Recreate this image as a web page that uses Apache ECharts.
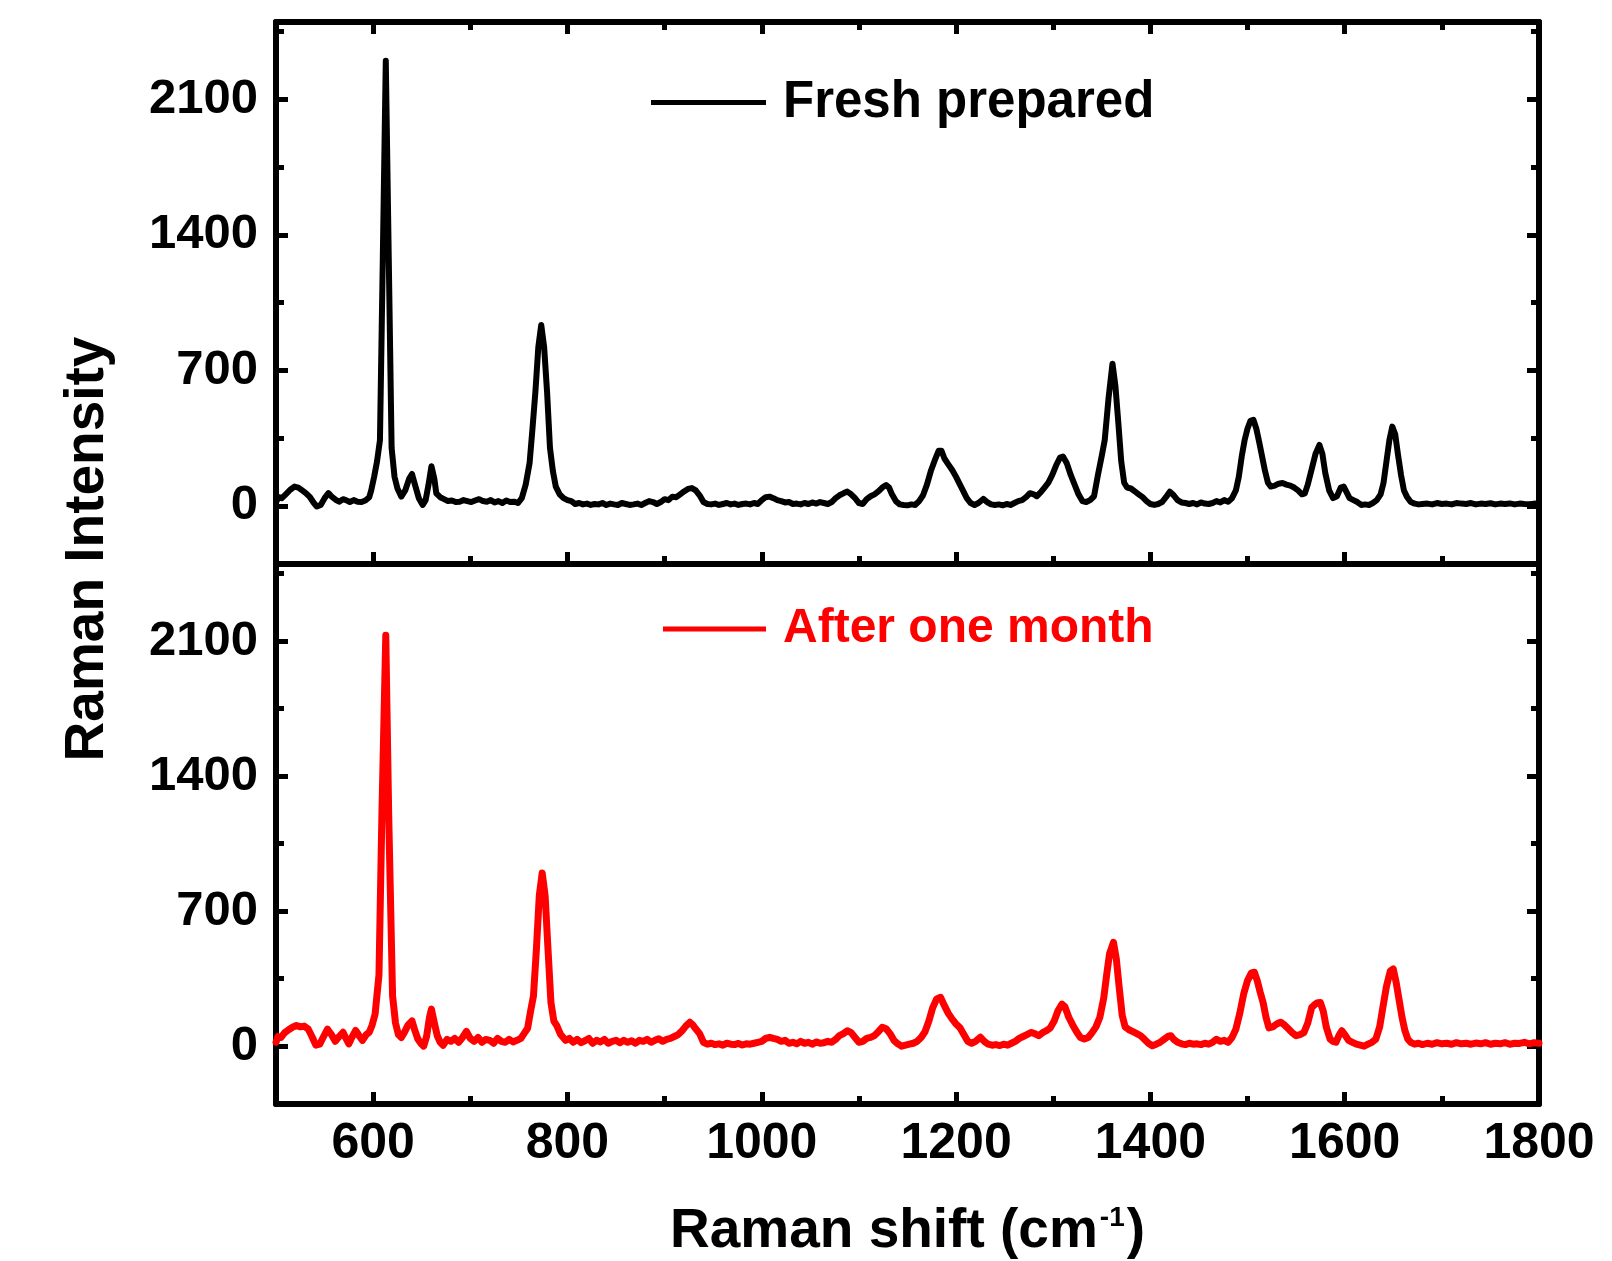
<!DOCTYPE html>
<html>
<head>
<meta charset="utf-8">
<script src="https://cdn.jsdelivr.net/npm/echarts@6/dist/echarts.min.js"></script>
<style>
html,body{margin:0;padding:0;background:#fff;}
#chart{width:1612px;height:1261px;}
</style>
</head>
<body>
<div id="chart"></div>
<script>
// ---- data (Raman shift cm-1, intensity) ----
var freshSpectrum = [[500,20],[503,45],[506,40],[510,60],[515,85],[519,100],[523,95],[527,80],[531,65],[535,45],[539,15],[542,-3],[546,5],[550,40],[554,66],[558,45],[562,30],[565,22],[569,35],[572,30],[576,20],[580,30],[584,22],[588,20],[592,28],[596,45],[598,80],[601,150],[604,230],[607,340],[610,1300],[613,2300],[616,1300],[619,300],[622,150],[625,90],[629,48],[633,80],[637,140],[640,165],[643,110],[647,40],[651,5],[654,30],[657,110],[660,205],[663,140],[665,65],[669,45],[673,35],[677,25],[681,28],[685,20],[689,22],[693,30],[697,25],[701,20],[705,28],[709,35],[713,25],[717,22],[721,30],[725,18],[729,25],[733,15],[737,28],[741,20],[745,22],[749,15],[753,40],[757,110],[761,221],[764,400],[767,590],[770,820],[773,935],[776,820],[779,590],[782,300],[785,180],[788,100],[792,60],[796,40],[800,30],[804,25],[808,10],[812,15],[816,8],[820,12],[824,5],[828,10],[832,8],[836,15],[840,5],[844,12],[848,8],[852,5],[856,15],[860,10],[864,5],[868,8],[872,12],[876,5],[880,15],[884,25],[888,20],[892,10],[896,20],[900,35],[904,30],[908,48],[912,45],[916,60],[920,75],[924,88],[928,92],[932,80],[936,55],[940,20],[944,10],[948,8],[952,12],[956,5],[960,10],[964,15],[968,8],[972,12],[976,5],[980,10],[984,12],[988,8],[992,15],[996,10],[1000,30],[1004,45],[1008,48],[1012,40],[1016,30],[1020,25],[1024,18],[1028,20],[1032,10],[1036,12],[1040,8],[1044,15],[1048,10],[1052,18],[1056,12],[1060,20],[1064,15],[1068,10],[1072,20],[1076,40],[1080,55],[1084,65],[1088,74],[1092,60],[1096,40],[1100,15],[1104,10],[1108,35],[1112,50],[1116,60],[1120,75],[1124,95],[1128,108],[1131,95],[1134,60],[1138,25],[1142,8],[1146,5],[1150,3],[1154,8],[1158,5],[1162,25],[1166,55],[1170,110],[1174,180],[1178,235],[1182,285],[1185,285],[1188,245],[1192,215],[1196,186],[1200,150],[1204,110],[1207,80],[1211,40],[1215,15],[1219,5],[1223,15],[1228,36],[1232,20],[1236,8],[1240,5],[1244,8],[1248,3],[1252,10],[1256,5],[1260,15],[1264,25],[1268,30],[1272,45],[1276,66],[1280,60],[1283,50],[1287,70],[1291,95],[1295,120],[1299,160],[1303,210],[1307,250],[1310,255],[1314,220],[1318,160],[1322,110],[1326,60],[1330,25],[1334,20],[1338,30],[1342,50],[1346,160],[1350,260],[1353,340],[1357,560],[1361,735],[1364,620],[1367,430],[1370,230],[1373,120],[1376,95],[1380,90],[1384,75],[1388,60],[1392,45],[1396,25],[1400,10],[1404,5],[1408,10],[1412,20],[1416,45],[1420,74],[1424,55],[1428,30],[1432,18],[1436,15],[1440,10],[1444,15],[1448,8],[1452,18],[1456,12],[1460,10],[1464,15],[1468,25],[1472,18],[1476,30],[1480,22],[1484,40],[1488,80],[1491,150],[1494,255],[1497,340],[1500,400],[1503,440],[1506,445],[1509,400],[1512,330],[1515,255],[1518,180],[1521,120],[1524,100],[1528,105],[1532,115],[1536,118],[1540,110],[1544,105],[1548,95],[1552,80],[1556,60],[1559,65],[1562,110],[1566,190],[1570,270],[1574,315],[1577,270],[1580,170],[1584,80],[1588,40],[1592,50],[1596,95],[1599,100],[1602,70],[1605,40],[1609,30],[1613,20],[1617,5],[1621,8],[1625,5],[1629,15],[1633,30],[1637,60],[1640,120],[1643,230],[1646,340],[1649,410],[1652,370],[1655,260],[1658,160],[1661,80],[1664,48],[1668,20],[1672,12],[1676,8],[1680,10],[1685,12],[1690,8],[1695,15],[1700,10],[1705,12],[1710,8],[1715,15],[1720,12],[1725,10],[1730,15],[1735,8],[1740,12],[1745,10],[1750,14],[1755,8],[1760,12],[1765,10],[1770,13],[1775,8],[1780,12],[1785,10],[1790,9],[1795,12],[1800,10]];

var monthSpectrum = [[500,20],[502,50],[505,45],[509,70],[513,85],[517,98],[521,107],[525,100],[529,104],[533,90],[537,50],[541,5],[545,10],[549,50],[553,88],[557,60],[561,25],[565,50],[569,72],[572,40],[575,12],[578,45],[582,81],[586,50],[589,30],[593,60],[596,72],[599,110],[602,166],[606,370],[609,1200],[613,2130],[616,1200],[620,260],[623,120],[626,60],[629,45],[632,70],[636,110],[640,131],[643,80],[646,37],[649,15],[652,0],[655,50],[658,150],[660,192],[663,120],[666,54],[669,20],[672,5],[676,35],[680,25],[684,40],[688,20],[692,45],[696,76],[700,40],[704,25],[708,45],[712,20],[716,35],[720,30],[724,15],[728,40],[732,25],[736,20],[740,35],[744,22],[748,30],[752,40],[756,70],[759,93],[762,180],[765,260],[768,500],[771,780],[774,898],[777,780],[780,500],[783,226],[786,130],[789,106],[793,60],[798,30],[802,40],[806,20],[810,35],[814,18],[818,28],[822,40],[826,15],[830,30],[834,22],[838,35],[842,15],[846,25],[850,30],[854,18],[858,30],[862,20],[866,28],[870,15],[874,30],[878,25],[882,35],[886,20],[890,30],[894,38],[898,25],[902,35],[906,40],[910,50],[914,60],[918,80],[922,105],[926,124],[929,110],[932,90],[936,65],[940,20],[944,10],[948,15],[952,8],[956,12],[960,5],[964,15],[968,10],[972,8],[976,14],[980,6],[984,12],[988,10],[992,15],[996,20],[1000,25],[1004,40],[1008,46],[1012,40],[1016,35],[1020,25],[1024,30],[1028,15],[1032,20],[1036,12],[1040,25],[1044,15],[1048,20],[1052,10],[1056,22],[1060,15],[1064,18],[1068,25],[1072,20],[1076,35],[1080,55],[1084,65],[1088,80],[1092,70],[1096,45],[1100,20],[1104,25],[1108,40],[1112,45],[1116,55],[1120,75],[1124,98],[1128,90],[1132,65],[1136,30],[1140,12],[1144,0],[1148,5],[1152,10],[1156,15],[1160,25],[1164,45],[1168,75],[1172,130],[1176,200],[1180,245],[1184,253],[1188,210],[1192,170],[1196,140],[1200,115],[1204,95],[1208,60],[1212,25],[1216,15],[1220,25],[1225,46],[1229,25],[1233,10],[1237,5],[1241,8],[1245,3],[1249,10],[1253,5],[1257,15],[1261,25],[1265,40],[1269,50],[1273,60],[1277,71],[1281,65],[1285,54],[1289,70],[1293,80],[1297,95],[1301,130],[1305,185],[1309,218],[1312,205],[1316,150],[1320,110],[1324,75],[1328,45],[1332,37],[1336,45],[1340,70],[1344,100],[1348,150],[1352,250],[1355,370],[1358,480],[1362,538],[1365,450],[1368,300],[1371,160],[1374,100],[1378,85],[1382,75],[1386,65],[1390,54],[1394,35],[1398,15],[1402,2],[1406,10],[1410,20],[1414,35],[1418,50],[1421,54],[1424,35],[1428,20],[1432,12],[1436,8],[1440,15],[1444,10],[1448,12],[1452,8],[1456,15],[1460,10],[1464,20],[1468,36],[1472,25],[1476,30],[1480,20],[1484,45],[1488,88],[1492,170],[1496,270],[1500,340],[1504,380],[1507,383],[1510,340],[1513,280],[1516,226],[1519,150],[1522,95],[1526,100],[1530,115],[1534,124],[1538,110],[1542,90],[1546,70],[1550,54],[1554,60],[1558,70],[1562,120],[1566,200],[1569,215],[1572,225],[1575,226],[1578,180],[1581,100],[1585,36],[1588,25],[1591,20],[1594,55],[1597,80],[1600,60],[1604,30],[1608,20],[1612,10],[1616,5],[1620,0],[1624,10],[1628,20],[1632,36],[1636,100],[1639,192],[1643,310],[1647,390],[1650,400],[1653,330],[1656,240],[1659,150],[1662,80],[1665,36],[1668,20],[1672,10],[1676,15],[1680,8],[1685,15],[1690,10],[1695,18],[1700,12],[1705,15],[1710,10],[1715,18],[1720,12],[1725,15],[1730,10],[1735,16],[1740,12],[1745,18],[1750,10],[1755,15],[1760,12],[1765,18],[1770,10],[1775,15],[1780,14],[1785,20],[1790,12],[1795,18],[1800,15]];

var xMajorTicks = [600, 800, 1000, 1200, 1400, 1600, 1800];
var xMinorTicks = [700, 900, 1100, 1300, 1500, 1700];
var yMajorTicks = [0, 700, 1400, 2100];
var yMinorTicks = [350, 1050, 1750, 2450];
var seriesNames = ['Fresh prepared', 'After one month'];
var xTitle = 'Raman shift (cm';
var yTitle = 'Raman Intensity';

// ---- chart ----
var FONT = 'Liberation Sans, Arial, Helvetica, sans-serif';
var LW = 6;
var chart = echarts.init(document.getElementById('chart'), null, {renderer: 'canvas'});

var G = {left: 276, width: 1263};
var grids = [
  {left: G.left, width: G.width, top: 22, height: 542},
  {left: G.left, width: G.width, top: 564, height: 540},
  {left: G.left, width: G.width, top: 22, height: 542},
  {left: G.left, width: G.width, top: 564, height: 540}
];
function plain(v) { return String(v); }

function xAx(grid, pos, ticks, len, showLine, showLabel) {
  var a = {
    type: 'value', gridIndex: grid, position: pos, min: 500, max: 1800,
    splitLine: {show: false},
    axisLine: {show: showLine, onZero: false, lineStyle: {color: '#000', width: LW}},
    axisTick: {show: !!ticks, inside: true, length: len, customValues: ticks || [], lineStyle: {color: '#000', width: 5}},
    axisLabel: {show: !!showLabel}
  };
  if (showLabel) {
    a.axisLabel = {show: true, customValues: xMajorTicks, margin: 15, formatter: plain,
      color: '#000', fontFamily: FONT, fontWeight: 'bold', fontSize: 50};
  }
  return a;
}
function yAx(grid, pos, ticks, len, showLine, showLabel) {
  var a = {
    type: 'value', gridIndex: grid, position: pos, min: -300, max: 2500,
    splitLine: {show: false},
    axisLine: {show: showLine, onZero: false, lineStyle: {color: '#000', width: LW}},
    axisTick: {show: true, inside: true, length: len, customValues: ticks, lineStyle: {color: '#000', width: 5}},
    axisLabel: {show: !!showLabel}
  };
  if (showLabel) {
    a.axisLabel = {show: true, customValues: yMajorTicks, margin: 18, formatter: plain,
      color: '#000', fontFamily: FONT, fontWeight: 'bold', fontSize: 49};
  }
  return a;
}

var xAxes = [
  xAx(0, 'bottom', xMajorTicks, 12, true, false),
  xAx(0, 'top', xMajorTicks, 12, true, false),
  xAx(1, 'bottom', xMajorTicks, 12, true, true),
  xAx(1, 'top', null, 0, true, false),
  xAx(2, 'bottom', xMinorTicks, 8, false, false),
  xAx(2, 'top', xMinorTicks, 8, false, false),
  xAx(3, 'bottom', xMinorTicks, 8, false, false)
];
xAxes[2].name = '{t|' + xTitle + '}{s|-1}{t|)}';
xAxes[2].nameLocation = 'middle';
xAxes[2].nameGap = 100;
xAxes[2].nameTextStyle = {
  rich: {
    t: {fontFamily: FONT, fontWeight: 'bold', fontSize: 55, color: '#000'},
    s: {fontFamily: FONT, fontWeight: 'bold', fontSize: 28, color: '#000', verticalAlign: 'top', padding: [0, 2, 26, 2]}
  }
};

var yAxes = [
  yAx(0, 'left', yMajorTicks, 12, true, true),
  yAx(0, 'right', yMajorTicks, 12, true, false),
  yAx(1, 'left', yMajorTicks, 12, true, true),
  yAx(1, 'right', yMajorTicks, 12, true, false),
  yAx(2, 'left', yMinorTicks, 8, false, false),
  yAx(2, 'right', yMinorTicks, 8, false, false),
  yAx(3, 'left', yMinorTicks, 8, false, false),
  yAx(3, 'right', yMinorTicks, 8, false, false)
];

var option = {
  backgroundColor: '#fff',
  animation: false,
  grid: grids,
  xAxis: xAxes,
  yAxis: yAxes,
  legend: [
    {data: [{name: seriesNames[0], icon: 'rect'}], left: 651, top: 77, padding: 0,
     itemWidth: 115, itemHeight: 5, selectedMode: false,
     textStyle: {color: '#000', fontFamily: FONT, fontWeight: 'bold', fontSize: 51, padding: [0, 0, 0, 12]}},
    {data: [{name: seriesNames[1], icon: 'rect'}], left: 663, top: 605, padding: 0,
     itemWidth: 103, itemHeight: 5, selectedMode: false,
     textStyle: {color: '#ff0000', fontFamily: FONT, fontWeight: 'bold', fontSize: 48, padding: [0, 0, 0, 12]}}
  ],
  graphic: [{
    type: 'text', x: 88, y: 549, rotation: Math.PI / 2,
    style: {text: yTitle, fill: '#000', font: 'bold 55px ' + FONT, textAlign: 'center', textVerticalAlign: 'middle'}
  }],
  series: [
    {name: seriesNames[0], type: 'line', xAxisIndex: 0, yAxisIndex: 0, data: freshSpectrum,
     showSymbol: false, symbol: 'none', color: '#000', lineStyle: {color: '#000', width: 6, join: 'round', cap: 'round'}},
    {name: seriesNames[1], type: 'line', xAxisIndex: 2, yAxisIndex: 2, data: monthSpectrum,
     showSymbol: false, symbol: 'none', color: '#ff0000', lineStyle: {color: '#ff0000', width: 7, join: 'round', cap: 'round'}}
  ]
};
chart.setOption(option);
</script>
</body>
</html>
